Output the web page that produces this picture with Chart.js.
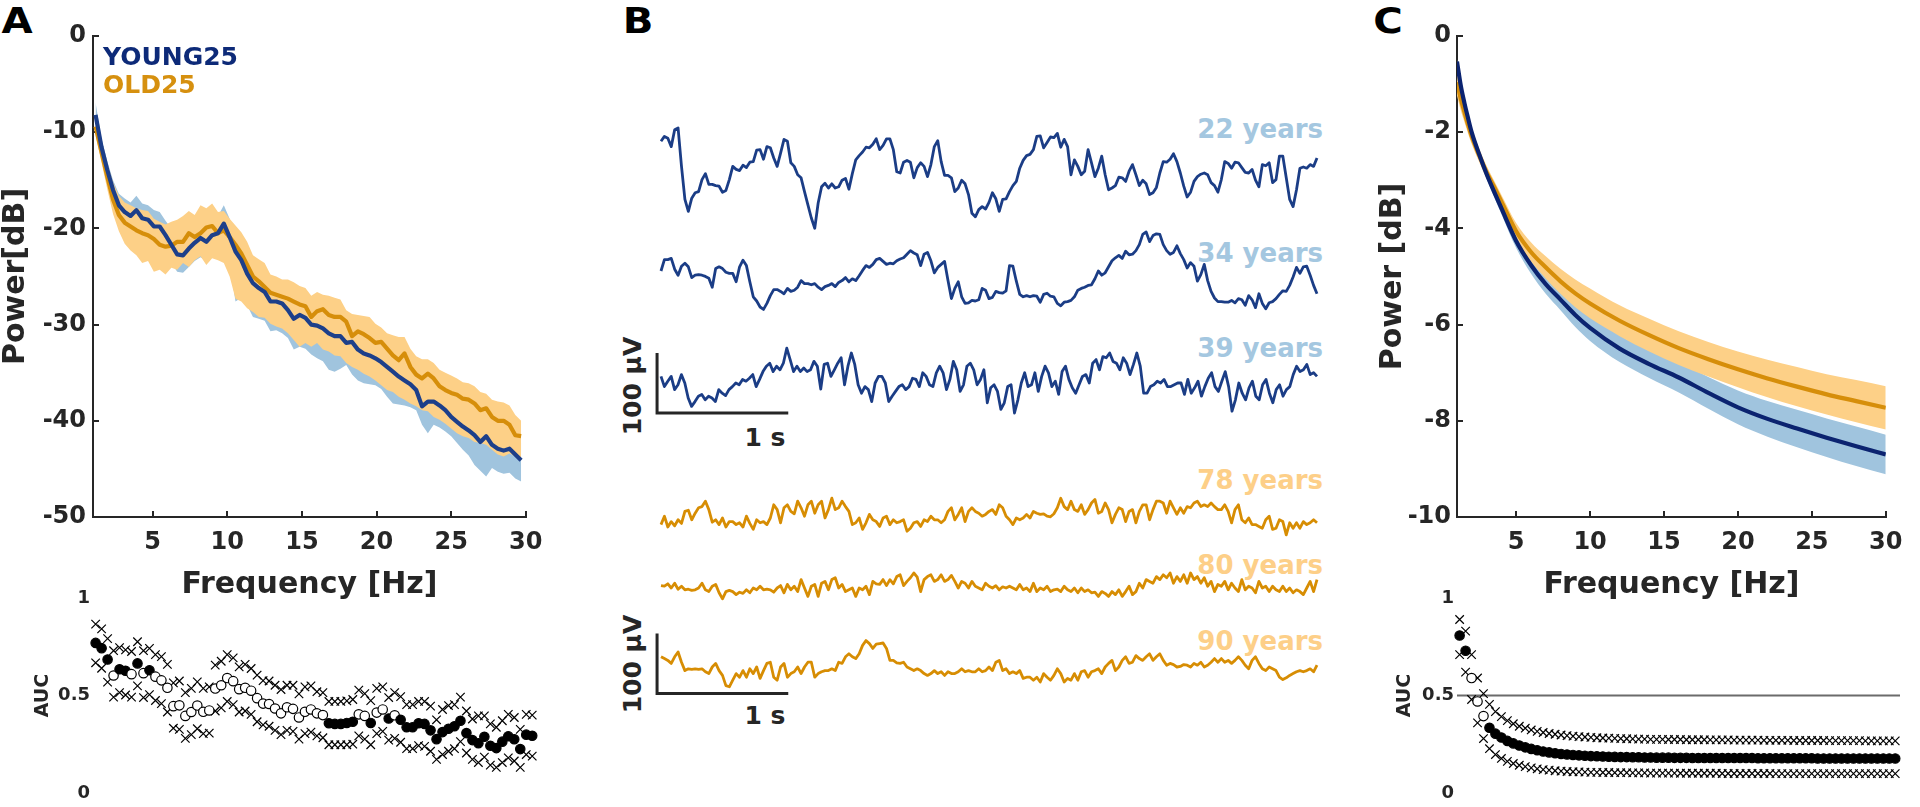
<!DOCTYPE html>
<html>
<head>
<meta charset="utf-8">
<title>Young vs old EEG spectra</title>
<script src="https://cdn.jsdelivr.net/npm/chart.js@4.4.1/dist/chart.umd.min.js"></script>
<style>
  body { margin: 0; width: 1920px; height: 807px; overflow: hidden; position: relative; background: #fff;
         font-family: 'DejaVu Sans', Verdana, sans-serif; font-weight: bold; color: #262626; }
  canvas { position: absolute; z-index: 1; }
  .t { position: absolute; white-space: nowrap; line-height: 1; z-index: 0; }
  .c { transform: translate(-50%, -50%); }
  .l { transform: translate(0, -50%); }
  .r { transform: translate(-100%, -50%); }
  .v { transform: translate(-50%, -50%) rotate(-90deg); }
  .young { color: #a4c7e0; font-size: 26px; }
  .old { color: #fdcf88; font-size: 26px; }
</style>
</head>
<body>

<div class="t c" style="left:17px;top:21px;font-size:35px;color:#000;transform:translate(-50%,-50%) scaleX(1.15)">A</div>
<div class="t c" style="left:638px;top:21px;font-size:35px;color:#000;transform:translate(-50%,-50%) scaleX(1.15)">B</div>
<div class="t c" style="left:1388px;top:21px;font-size:35px;color:#000;transform:translate(-50%,-50%) scaleX(1.15)">C</div>

<div class="t l" style="left:103px;top:56px;font-size:25px;color:#0d2a78;z-index:2">YOUNG25</div>
<div class="t l" style="left:103px;top:84px;font-size:25px;color:#d6900f;z-index:2">OLD25</div>

<div class="t r young" style="left:1323px;top:129px">22 years</div>
<div class="t r young" style="left:1323px;top:253px">34 years</div>
<div class="t r young" style="left:1323px;top:348px">39 years</div>
<div class="t r old" style="left:1323px;top:480px">78 years</div>
<div class="t r old" style="left:1323px;top:565px">80 years</div>
<div class="t r old" style="left:1323px;top:641px">90 years</div>

<div class="t c" style="left:765px;top:437px;font-size:25px">1 s</div>
<div class="t c" style="left:765px;top:715px;font-size:25px">1 s</div>
<div class="t v" style="left:632px;top:386px;font-size:25px">100 µV</div>
<div class="t v" style="left:632px;top:664px;font-size:25px">100 µV</div>

<canvas id="psd" width="560" height="610" style="left:0;top:0"></canvas>
<canvas id="aucA" width="560" height="247" style="left:0;top:560px"></canvas>
<canvas id="eeg" width="740" height="640" style="left:600px;top:90px"></canvas>
<canvas id="fit" width="560" height="610" style="left:1360px;top:0"></canvas>
<canvas id="aucC" width="560" height="247" style="left:1360px;top:560px"></canvas>

<script>
// spectral bins: k * 0.390625 Hz, first bin k = 3
const FREQ_BIN = 0.390625;
const FIRST_BIN = 3;
const FREQ_TICKS = [5, 10, 15, 20, 25, 30];
const PSD_TICKS = [0, -10, -20, -30, -40, -50];
const FIT_TICKS = [0, -2, -4, -6, -8, -10];
const AUC_TICKS = [0, 0.5, 1];
const CHANCE = 0.5;

// A: power spectra (dB), mean and band per group
const YOUNG_MEAN = [-8.2,-11.5,-13.9,-16.0,-17.6,-18.3,-18.7,-18.1,-18.95,-19.1,
  -19.8,-19.8,-20.7,-21.7,-22.7,-22.8,-22.1,-21.5,-21.0,-21.4,
  -20.7,-20.5,-19.5,-20.9,-22.4,-23.3,-24.7,-25.7,-26.2,-26.6,
  -27.6,-27.6,-27.8,-28.5,-29.4,-29.0,-29.3,-30.0,-30.1,-30.4,
  -30.9,-31.2,-31.2,-31.9,-31.8,-32.6,-33.0,-33.2,-33.5,-33.9,
  -34.4,-34.9,-35.4,-35.8,-36.2,-36.8,-38.5,-38.0,-38.0,-38.4,
  -38.9,-39.6,-40.1,-40.6,-41.0,-41.5,-42.2,-41.6,-42.5,-42.9,
  -43.1,-42.9,-43.5,-44.1];
const YOUNG_UPPER = [-6.9,-10.6,-13.0,-15.0,-16.4,-16.9,-17.3,-16.6,-17.4,-17.6,
  -18.1,-18.3,-19.2,-20.0,-20.9,-21.0,-20.3,-19.8,-19.3,-19.6,
  -18.9,-18.7,-17.6,-19.0,-20.6,-21.5,-22.9,-23.9,-24.4,-24.8,
  -25.8,-25.8,-26.0,-26.7,-27.6,-27.2,-27.5,-28.2,-28.3,-28.6,
  -29.1,-29.4,-29.4,-30.1,-30.0,-30.8,-31.2,-31.4,-31.7,-32.1,
  -32.6,-33.1,-33.6,-34.0,-34.4,-35.0,-36.7,-36.2,-36.2,-36.6,
  -37.1,-37.8,-38.3,-38.8,-39.2,-39.7,-40.4,-39.8,-40.7,-41.1,
  -41.3,-41.1,-41.7,-42.3];
const YOUNG_LOWER = [-9.3,-12.6,-15.2,-17.5,-19.3,-20.0,-20.4,-19.9,-20.7,-20.9,
  -21.6,-21.7,-22.6,-23.6,-24.5,-24.6,-24.0,-23.4,-23.0,-23.4,
  -22.7,-22.5,-21.6,-23.6,-27.6,-27.2,-28.0,-29.2,-29.4,-29.6,
  -30.7,-30.6,-30.9,-31.4,-32.6,-32.3,-32.5,-33.1,-33.5,-33.8,
  -34.7,-34.9,-34.6,-34.2,-35.2,-35.8,-36.1,-36.2,-36.3,-36.7,
  -37.5,-38.2,-38.3,-38.4,-38.6,-38.9,-40.4,-41.3,-40.4,-40.7,
  -41.1,-41.6,-42.3,-43.0,-43.6,-44.6,-45.2,-45.8,-44.9,-45.3,
  -45.5,-45.4,-46.0,-46.3];
const OLD_MEAN = [-9.4,-12.0,-14.6,-17.0,-18.6,-19.4,-19.8,-20.2,-20.5,-20.7,
  -21.1,-21.7,-21.9,-21.8,-21.4,-21.4,-20.5,-20.9,-20.5,-19.9,
  -19.75,-20.5,-20.2,-20.9,-21.7,-22.6,-23.8,-25.0,-25.5,-26.1,
  -26.7,-26.9,-27.1,-27.3,-27.6,-27.9,-28.1,-29.2,-28.6,-28.4,
  -29.0,-29.2,-29.2,-29.7,-31.2,-30.7,-31.0,-31.4,-31.9,-31.8,
  -32.5,-33.2,-33.7,-33.0,-34.4,-35.2,-35.6,-35.1,-35.6,-36.4,
  -36.8,-37.1,-37.3,-37.7,-37.8,-38.2,-38.9,-38.7,-39.6,-40.0,
  -40.0,-40.4,-41.5,-41.6];
const OLD_UPPER = [-8.4,-10.8,-13.2,-15.2,-16.6,-17.3,-17.6,-17.9,-18.1,-18.2,
  -19.0,-19.3,-19.6,-19.3,-19.1,-18.7,-18.2,-18.6,-17.6,-17.9,
  -17.4,-18.3,-18.2,-19.0,-19.7,-20.4,-21.4,-22.8,-23.2,-23.6,
  -24.8,-25.0,-25.3,-25.3,-25.6,-26.0,-26.2,-27.0,-26.6,-26.9,
  -27.0,-27.2,-27.4,-28.5,-28.9,-29.0,-29.1,-29.2,-29.9,-30.3,
  -30.9,-31.1,-31.3,-31.3,-32.5,-33.3,-33.6,-33.6,-34.0,-34.7,
  -35.0,-35.3,-35.6,-36.0,-36.1,-36.4,-37.0,-37.2,-37.8,-38.0,
  -38.1,-38.4,-39.4,-40.0];
const OLD_LOWER = [-10.4,-13.1,-15.9,-18.5,-20.3,-21.6,-22.3,-22.8,-23.6,-23.4,
  -24.5,-24.3,-24.8,-24.1,-24.3,-23.6,-24.0,-23.3,-22.9,-23.8,
  -23.1,-23.3,-23.6,-25.0,-27.3,-27.6,-28.3,-28.7,-29.2,-29.3,
  -29.9,-30.2,-30.4,-30.9,-31.6,-32.3,-31.9,-32.3,-31.9,-32.6,
  -32.8,-33.2,-33.3,-34.0,-34.4,-34.7,-35.1,-35.4,-35.8,-36.3,
  -36.8,-37.0,-37.5,-37.8,-38.2,-38.5,-38.9,-39.0,-39.6,-39.9,
  -40.3,-40.8,-41.3,-41.6,-41.8,-42.2,-42.3,-42.5,-43.0,-43.5,
  -43.7,-43.4,-43.7,-44.1];

// A: AUC per bin (mean, upper and lower bound)
const AUC_A_MEAN = [0.77,0.743,0.685,0.603,0.635,0.627,0.61,0.665,0.615,0.63,
  0.597,0.578,0.54,0.446,0.45,0.396,0.416,0.449,0.417,0.424,
  0.536,0.553,0.59,0.574,0.533,0.54,0.525,0.487,0.459,0.457,
  0.434,0.409,0.44,0.432,0.388,0.417,0.429,0.409,0.4,0.358,
  0.355,0.355,0.36,0.366,0.404,0.396,0.36,0.413,0.429,0.383,
  0.399,0.376,0.338,0.338,0.358,0.355,0.322,0.277,0.313,0.33,
  0.343,0.371,0.308,0.272,0.256,0.289,0.243,0.231,0.264,0.292,
  0.276,0.226,0.3,0.294];
const AUC_A_UPPER = [0.866,0.842,0.792,0.73,0.746,0.734,0.726,0.776,0.73,0.742,
  0.71,0.70,0.66,0.565,0.575,0.515,0.537,0.57,0.537,0.545,
  0.656,0.676,0.71,0.693,0.647,0.66,0.639,0.605,0.577,0.575,
  0.553,0.531,0.553,0.553,0.509,0.545,0.55,0.52,0.515,0.47,
  0.47,0.47,0.473,0.48,0.528,0.51,0.474,0.537,0.545,0.49,
  0.515,0.495,0.454,0.454,0.47,0.47,0.446,0.376,0.429,0.449,
  0.454,0.492,0.421,0.38,0.396,0.396,0.355,0.338,0.371,0.404,
  0.388,0.327,0.404,0.4];
const AUC_A_LOWER = [0.668,0.64,0.569,0.492,0.515,0.503,0.492,0.55,0.49,0.505,
  0.475,0.459,0.416,0.333,0.327,0.281,0.3,0.33,0.305,0.308,
  0.421,0.437,0.47,0.454,0.416,0.421,0.404,0.366,0.35,0.343,
  0.322,0.3,0.322,0.317,0.277,0.305,0.313,0.294,0.284,0.248,
  0.248,0.248,0.248,0.251,0.294,0.277,0.248,0.305,0.317,0.272,
  0.281,0.261,0.228,0.228,0.244,0.24,0.215,0.173,0.198,0.215,
  0.228,0.264,0.206,0.173,0.157,0.185,0.144,0.132,0.157,0.181,
  0.165,0.132,0.198,0.19];

// B: example EEG epochs, 5 s each, µV
const TRACE_SECONDS = 5;
const TRACE_22 = [53,61,58,44,72,75,11,-44,-64,-42,-33,-31,-11,-1,-19,-19,-21,-22,-32,-29,
  -11,11,6,4,13,9,18,19,38,39,23,44,42,25,11,33,56,53,17,11,
  -3,-8,-31,-53,-75,-92,-50,-23,-17,-25,-18,-25,-23,-12,-9,-27,-1,22,29,35,
  43,42,48,57,39,46,57,57,39,2,0,18,21,18,-8,9,17,11,-6,14,
  44,54,19,-4,-4,-8,-31,-25,-12,-18,-36,-67,-73,-61,-56,-60,-49,-33,-43,-64,
  -44,-43,-31,-21,-14,8,21,29,31,39,61,62,42,51,60,59,66,43,56,44,
  -3,22,11,-3,3,39,17,-6,8,28,-3,-28,-25,-21,-7,-8,-14,3,14,-3,
  -21,-12,-18,-36,-33,-24,0,19,18,23,32,19,0,-22,-40,-32,-14,-6,-2,0,
  -3,-16,-21,-32,-11,19,16,8,18,17,9,1,0,6,-12,-23,14,12,17,-16,
  -11,28,28,-8,-44,-56,-28,8,10,8,14,11,25];
const TRACE_34 = [10,29,29,31,13,3,18,23,17,-1,3,4,3,1,-2,-17,14,17,14,8,
  6,6,-8,17,28,19,-8,-33,-40,-50,-54,-44,-31,-21,-21,-24,-28,-19,-24,-22,
  -17,-6,-11,-11,-13,-11,-17,-21,-16,-14,-11,-16,-9,-6,-1,-8,-3,-6,2,11,
  19,16,21,29,31,26,21,23,22,27,30,32,38,44,40,37,19,38,41,27,
  7,16,21,26,-6,-36,-19,-8,-33,-44,-43,-39,-40,-38,-19,-22,-36,-34,-24,-26,
  -27,-23,19,18,-7,-29,-33,-31,-33,-31,-32,-42,-29,-27,-32,-33,-44,-48,-42,-41,
  -39,-33,-22,-19,-17,-14,-13,-3,10,3,7,17,27,32,36,31,43,37,38,44,
  54,71,75,59,69,72,71,54,44,38,41,52,39,29,15,24,18,-7,4,21,
  -6,-24,-35,-41,-41,-42,-42,-39,-43,-36,-38,-47,-31,-38,-51,-28,-44,-53,-43,-41,
  -36,-29,-23,-24,-14,0,16,6,17,18,3,-14,-28];
const TRACE_39 = [11,-6,3,11,-11,-3,14,0,-25,-39,-31,-22,-19,-28,-22,-25,-31,-11,-17,-21,
  -11,-6,0,-3,6,3,8,14,-6,6,19,28,33,19,28,22,33,58,39,19,
  28,19,25,19,22,36,28,-10,31,33,11,22,33,42,-3,28,50,31,-3,-17,
  -6,-11,-31,0,11,11,0,-31,-22,-14,-6,-3,-11,-6,8,6,-6,17,11,-3,
  -6,17,28,17,-11,6,36,22,-14,-3,28,33,22,-3,6,22,-33,-8,-3,-14,
  -44,-33,-6,-3,-50,-28,0,17,-6,-3,17,-14,11,28,17,-6,3,-19,19,28,
  6,-8,-17,-3,11,14,0,33,39,22,44,42,50,36,33,22,42,33,14,31,
  50,28,-17,-17,-6,-3,3,0,6,-6,-6,-3,0,0,-19,6,-17,-8,3,-22,
  -6,8,17,-6,-14,3,19,-6,-47,-28,0,-17,-28,-8,3,-22,-28,-3,6,-17,
  -33,-11,-3,-22,-11,-6,14,28,19,22,31,14,17,11];
const TRACE_78 = [-11,3,-15,-6,-13,-3,-9,11,13,-3,8,17,19,28,14,-7,-3,-11,0,-15,
  -6,-6,-11,-8,-15,3,-9,-19,-3,-8,-6,-11,0,22,14,-8,17,22,11,7,
  28,17,3,22,28,8,22,28,0,14,33,14,17,28,19,11,-11,-8,0,-19,
  -8,6,-3,-6,-14,0,3,-11,-3,-8,-6,-3,-22,-17,-8,-6,-14,-3,-6,3,
  -3,-3,-8,-3,11,17,-3,6,17,-6,11,17,11,8,3,6,11,14,6,22,
  17,3,-3,-11,0,-3,0,6,0,11,8,6,7,3,2,7,17,33,19,14,
  28,14,11,22,6,14,25,31,8,11,25,14,-8,6,17,14,-6,11,14,-8,
  11,22,22,-3,14,28,28,25,8,28,17,6,17,8,19,17,25,28,19,22,
  19,25,19,14,14,22,11,-8,14,22,-3,-8,0,-11,-11,-14,-17,-3,3,-19,
  -17,-3,-6,-28,-8,-17,-8,-17,-6,-11,-8,-3,-8];
const TRACE_80 = [4,3,7,0,8,-2,3,-3,-2,-4,-3,0,8,-3,-6,3,6,-8,-18,-6,
  -4,-6,-11,-7,-9,-3,-8,0,-3,3,-3,-2,-3,-7,0,4,-8,6,-3,3,
  -6,14,0,-14,3,6,-14,8,11,-3,14,17,0,6,-6,-3,0,-14,0,-3,
  3,-11,11,7,6,14,4,14,7,19,22,4,11,17,25,18,-6,14,19,22,
  11,14,22,11,14,21,11,0,11,8,0,11,3,0,-3,8,3,0,4,-3,
  2,0,3,0,-3,6,-3,0,-6,8,-6,0,-3,3,-6,-3,-2,-6,3,-3,
  -6,0,-8,0,-6,-3,-8,-7,-14,-6,-9,-14,-6,-11,-3,-14,-6,3,-11,-6,
  8,0,14,11,8,19,14,22,17,25,8,19,11,22,8,25,14,19,8,17,
  3,11,-6,6,3,11,-3,8,0,-6,14,-3,3,0,-8,11,0,3,-6,3,
  -3,-6,3,-6,0,-8,-3,-6,-11,0,11,-6,14];
const TRACE_90 = [17,14,11,6,17,25,8,-6,-3,-4,-3,-4,-3,-8,-11,0,6,-6,-14,-31,
  -33,-22,-11,-17,-6,-17,-3,-11,0,-19,-6,6,8,-17,-22,0,6,-17,-11,-8,
  0,-11,0,8,8,-17,-11,-8,-6,-6,-3,-6,8,6,17,22,17,14,22,36,
  44,39,31,38,39,40,31,11,11,7,6,8,0,-3,-6,-3,-6,-11,-14,-11,
  -6,-11,-8,-14,-8,-11,-11,-8,-3,-8,-6,-8,-8,-3,-8,-6,0,-6,8,11,
  -6,-3,-11,-8,-11,-6,-19,-17,-17,-22,-17,-25,-11,-17,-22,-14,-3,-11,-25,-19,
  -22,-11,-22,-8,-6,-17,-8,-6,-3,-11,0,6,11,-6,0,11,17,6,8,19,
  14,11,17,22,11,17,22,11,3,6,4,0,1,4,3,0,6,3,8,0,
  3,8,14,8,14,8,11,6,11,17,11,3,-3,11,17,6,-3,-6,0,-3,
  -6,-17,-21,-18,-14,-11,-8,-6,-8,-6,-3,-8,3];
const SCALE_UV = 100;
const SCALE_S = 1;

// C: fitted aperiodic component (dB)
const FIT_FREQ = [1,1.25,1.5,1.75,2,2.5,3,3.5,4,5,6,7,8,9,10,12,14,16,18,20,22,24,26,28,30];
const FIT_YOUNG = [-0.53,-1.02,-1.39,-1.71,-2.01,-2.46,-2.87,-3.23,-3.58,-4.26,-4.76,-5.16,-5.48,-5.8,-6.07,-6.5,-6.82,-7.1,-7.42,-7.72,-7.96,-8.16,-8.35,-8.53,-8.7];
const FIT_YOUNG_UPPER = [-0.49,-0.97,-1.33,-1.64,-1.93,-2.37,-2.77,-3.12,-3.46,-4.11,-4.58,-4.96,-5.26,-5.55,-5.80,-6.22,-6.53,-6.79,-7.09,-7.37,-7.59,-7.77,-7.95,-8.12,-8.29];
const FIT_YOUNG_LOWER = [-0.57,-1.07,-1.45,-1.78,-2.09,-2.55,-2.97,-3.34,-3.70,-4.41,-4.94,-5.36,-5.70,-6.05,-6.34,-6.78,-7.11,-7.41,-7.75,-8.07,-8.33,-8.55,-8.75,-8.94,-9.11];
const FIT_OLD = [-0.96,-1.3,-1.58,-1.85,-2.09,-2.48,-2.83,-3.13,-3.44,-4.06,-4.49,-4.81,-5.1,-5.35,-5.56,-5.92,-6.22,-6.49,-6.72,-6.93,-7.12,-7.29,-7.45,-7.59,-7.73];
const FIT_OLD_UPPER = [-0.68,-1.06,-1.37,-1.67,-1.93,-2.34,-2.70,-3.00,-3.30,-3.89,-4.29,-4.58,-4.84,-5.06,-5.25,-5.60,-5.88,-6.14,-6.36,-6.56,-6.73,-6.88,-7.03,-7.15,-7.28];
const FIT_OLD_LOWER = [-1.24,-1.54,-1.79,-2.03,-2.25,-2.62,-2.96,-3.26,-3.58,-4.23,-4.69,-5.04,-5.36,-5.64,-5.87,-6.24,-6.56,-6.84,-7.08,-7.30,-7.51,-7.70,-7.87,-8.03,-8.18];

// C: AUC of the fitted component per bin
const AUC_C_MEAN = [0.808,0.73,0.59,0.47,0.395,0.335,0.305,0.285,0.268,0.255,
  0.244,0.235,0.227,0.22,0.214,0.209,0.205,0.201,0.198,0.196,
  0.194,0.192,0.19,0.189,0.188,0.187,0.186,0.185,0.185,0.184,
  0.184,0.183,0.183,0.182,0.182,0.182,0.181,0.181,0.181,0.18,
  0.18,0.18,0.18,0.18,0.18,0.18,0.18,0.18,0.18,0.18,
  0.179,0.179,0.179,0.179,0.179,0.179,0.179,0.179,0.179,0.179,
  0.178,0.178,0.178,0.178,0.178,0.178,0.178,0.178,0.178,0.178,
  0.178,0.178,0.178,0.178];
const AUC_C_UPPER = [0.89,0.83,0.71,0.59,0.51,0.455,0.418,0.392,0.372,0.356,
  0.343,0.333,0.324,0.317,0.311,0.306,0.302,0.298,0.295,0.292,
  0.29,0.288,0.286,0.284,0.283,0.282,0.281,0.28,0.279,0.278,
  0.277,0.277,0.276,0.276,0.276,0.275,0.275,0.275,0.274,0.274,
  0.274,0.274,0.273,0.273,0.273,0.273,0.272,0.272,0.272,0.272,
  0.272,0.271,0.271,0.271,0.271,0.271,0.27,0.27,0.27,0.27,
  0.27,0.27,0.269,0.269,0.269,0.269,0.269,0.269,0.268,0.268,
  0.268,0.268,0.268,0.268];
const AUC_C_LOWER = [0.71,0.62,0.48,0.36,0.28,0.228,0.198,0.178,0.163,0.152,
  0.143,0.136,0.13,0.125,0.121,0.118,0.115,0.113,0.111,0.11,
  0.109,0.108,0.107,0.107,0.106,0.106,0.105,0.105,0.105,0.104,
  0.104,0.104,0.103,0.103,0.103,0.103,0.103,0.102,0.102,0.102,
  0.102,0.102,0.102,0.102,0.101,0.101,0.101,0.101,0.101,0.101,
  0.101,0.101,0.101,0.1,0.1,0.1,0.1,0.1,0.1,0.1,
  0.1,0.1,0.1,0.1,0.1,0.1,0.1,0.1,0.1,0.1,
  0.1,0.1,0.1,0.1];

// ---- styling ----
const INK = '#262626';
const NAVY = '#1d3f8a', NAVY_DARK = '#0b2370', ORANGE = '#d68e0a';
const LIGHT_BLUE = '#a0c4de', LIGHT_ORANGE = '#fdd087';
const NAVY_TRACE = '#1b3d86', ORANGE_TRACE = '#d78d03';

Chart.defaults.font.family = "'DejaVu Sans', Verdana, sans-serif";
Chart.defaults.font.weight = 'bold';
Chart.defaults.color = INK;
Chart.defaults.animation = false;
Chart.defaults.events = [];
Chart.defaults.plugins.legend.display = false;
Chart.defaults.plugins.tooltip.enabled = false;

const binFreq = i => (FIRST_BIN + i) * FREQ_BIN;
const xy = (xs, ys) => ys.map((y, i) => ({ x: xs[i], y: y }));
const fixed = list => axis => { axis.ticks = list.map(v => ({ value: v })); };

function freqAxis(height) {
  return {
    type: 'linear', min: 1, max: 30,
    afterBuildTicks: fixed(FREQ_TICKS),
    afterFit: a => { a.height = height; },
    border: { display: true, color: INK, width: 2 },
    grid: { display: true, drawOnChartArea: false, drawTicks: true, tickLength: -6,
            color: INK, tickColor: INK, lineWidth: 2, tickWidth: 2 },
    ticks: { color: INK, font: { size: 24, weight: 'bold' }, padding: 17.5,
             maxRotation: 0, minRotation: 0, autoSkip: false },
    title: { display: true, text: 'Frequency [Hz]', color: INK,
             font: { size: 30, weight: 'bold', lineHeight: 1 }, padding: { top: 0, bottom: 10 } }
  };
}

function powerAxis(width, min, ticks, label, titlePad, labelPad) {
  return {
    type: 'linear', min: min, max: 0,
    afterBuildTicks: fixed(ticks),
    afterFit: a => { a.width = width; },
    border: { display: true, color: INK, width: 2 },
    grid: { display: true, drawOnChartArea: false, drawTicks: true, tickLength: -6,
            color: INK, tickColor: INK, lineWidth: 2, tickWidth: 2 },
    ticks: { color: INK, font: { size: 24, weight: 'bold' }, padding: labelPad, callback: v => String(v) },
    title: { display: true, text: label, color: INK,
             font: { size: 30, weight: 'bold', lineHeight: 1 }, padding: { top: titlePad, bottom: 0 } }
  };
}

function aucAxis(width, labelPad, titlePad) {
  return {
    type: 'linear', min: 0, max: 1,
    afterBuildTicks: fixed(AUC_TICKS),
    afterFit: a => { a.width = width; },
    border: { display: false },
    grid: { display: false, drawTicks: false },
    ticks: { color: INK, font: { size: 18, weight: 'bold' }, padding: labelPad, callback: v => String(v) },
    title: { display: true, text: 'AUC', color: INK,
             font: { size: 19, weight: 'bold', lineHeight: 1 }, padding: { top: titlePad, bottom: 0 } }
  };
}

function band(xs, upper, lower, colour, order) {
  return [
    { data: xy(xs, upper), fill: '+1', backgroundColor: colour, borderColor: 'transparent',
      borderWidth: 0, pointRadius: 0, order: order },
    { data: xy(xs, lower), fill: false, borderColor: 'transparent', borderWidth: 0,
      pointRadius: 0, order: order }
  ];
}

function meanLine(xs, ys, colour, order) {
  return { data: xy(xs, ys), borderColor: colour, borderWidth: 4.2, pointRadius: 0, fill: false,
           order: order, borderJoinStyle: 'round' };
}

function aucSets(xs, mean, upper, lower) {
  const sig = lower.map((lo, i) => lo > CHANCE || upper[i] < CHANCE);
  const cross = ys => ({ data: xy(xs, ys), showLine: false, pointStyle: 'crossRot', pointRadius: 6,
                         pointBorderColor: '#000', pointBorderWidth: 1.2, clip: false, order: 2 });
  return [
    cross(upper), cross(lower),
    { data: xy(xs, mean), showLine: false, pointStyle: 'circle', pointRadius: 4.7,
      pointBorderColor: '#000', pointBorderWidth: 1.2,
      pointBackgroundColor: sig.map(s => s ? '#000' : '#fff'), clip: false, order: 1 }
  ];
}

// ---- A: spectra ----
const psdFreqs = YOUNG_MEAN.map((_, i) => binFreq(i));
new Chart(document.getElementById('psd'), {
  type: 'line',
  data: { datasets: [
    meanLine(psdFreqs, YOUNG_MEAN, NAVY, 0),
    meanLine(psdFreqs, OLD_MEAN, ORANGE, 1),
    ...band(psdFreqs, OLD_UPPER, OLD_LOWER, LIGHT_ORANGE, 2),
    ...band(psdFreqs, YOUNG_UPPER, YOUNG_LOWER, LIGHT_BLUE, 3)
  ] },
  options: {
    responsive: false,
    layout: { padding: { top: 36, right: 23, left: 0, bottom: 0 } },
    plugins: { filler: { propagate: false } },
    scales: { x: freqAxis(93), y: powerAxis(93, -50, PSD_TICKS, 'Power[dB]', 1, 13) }
  }
});

const aucFreqsA = AUC_A_MEAN.map((_, i) => binFreq(i));
new Chart(document.getElementById('aucA'), {
  type: 'scatter',
  data: { datasets: aucSets(aucFreqsA, AUC_A_MEAN, AUC_A_UPPER, AUC_A_LOWER) },
  options: {
    responsive: false,
    layout: { padding: { top: 38, right: 23, left: 0, bottom: 7 } },
    scales: { x: { type: 'linear', min: 1, max: 30, display: false }, y: aucAxis(93, 3, 33.5) }
  }
});

// ---- B: EEG epochs ----
const B_W = 740, B_H = 640, B_TOP = 90;
const UV_PX = 0.6;        // 100 µV = 60 px
const PX_PER_S = 131.2;   // 1 s = 131 px
const T0_X = 61;          // onset of the epochs inside the canvas
const BAR_T = -0.03;
const EEG_ROWS = [
  { axis: 'y22', values: TRACE_22, colour: NAVY_TRACE, centre: 173 },
  { axis: 'y34', values: TRACE_34, colour: NAVY_TRACE, centre: 277 },
  { axis: 'y39', values: TRACE_39, colour: NAVY_TRACE, centre: 383 },
  { axis: 'y78', values: TRACE_78, colour: ORANGE_TRACE, centre: 518 },
  { axis: 'y80', values: TRACE_80, colour: ORANGE_TRACE, centre: 588 },
  { axis: 'y90', values: TRACE_90, colour: ORANGE_TRACE, centre: 667 }
];
const SCALE_BARS = [ { axis: 'y39', base: -50 }, { axis: 'y90', base: -44 } ];

const eegScales = { x: { type: 'linear', display: false, min: -T0_X / PX_PER_S, max: (B_W - T0_X) / PX_PER_S } };
EEG_ROWS.forEach(r => {
  const max = (r.centre - B_TOP) / UV_PX;
  eegScales[r.axis] = { type: 'linear', axis: 'y', display: false, max: max, min: max - B_H / UV_PX };
});
const eegSets = EEG_ROWS.map(r => ({
  yAxisID: r.axis,
  data: r.values.map((v, k) => ({ x: k * TRACE_SECONDS / (r.values.length - 1), y: v })),
  borderColor: r.colour, borderWidth: 2.8, pointRadius: 0, fill: false,
  borderJoinStyle: 'round', clip: false
}));
SCALE_BARS.forEach(b => eegSets.push({
  yAxisID: b.axis,
  data: [ { x: BAR_T, y: b.base + SCALE_UV }, { x: BAR_T, y: b.base }, { x: BAR_T + SCALE_S, y: b.base } ],
  borderColor: INK, borderWidth: 3, pointRadius: 0, fill: false,
  borderJoinStyle: 'miter', borderCapStyle: 'butt', clip: false
}));
new Chart(document.getElementById('eeg'), {
  type: 'line',
  data: { datasets: eegSets },
  options: { responsive: false, layout: { padding: 0 }, scales: eegScales }
});

// ---- C: fitted component ----
new Chart(document.getElementById('fit'), {
  type: 'line',
  data: { datasets: [
    meanLine(FIT_FREQ, FIT_YOUNG, NAVY_DARK, 0),
    meanLine(FIT_FREQ, FIT_OLD, ORANGE, 1),
    ...band(FIT_FREQ, FIT_OLD_UPPER, FIT_OLD_LOWER, LIGHT_ORANGE, 2),
    ...band(FIT_FREQ, FIT_YOUNG_UPPER, FIT_YOUNG_LOWER, LIGHT_BLUE, 3)
  ].map(d => Object.assign(d, { cubicInterpolationMode: 'monotone' })) },
  options: {
    responsive: false,
    layout: { padding: { top: 36, right: 20, left: 0, bottom: 0 } },
    plugins: { filler: { propagate: false } },
    scales: { x: freqAxis(93), y: powerAxis(97, -10, FIT_TICKS, 'Power [dB]', 18, 12) }
  }
});

const aucFreqsC = AUC_C_MEAN.map((_, i) => binFreq(i));
const aucCSets = aucSets(aucFreqsC, AUC_C_MEAN, AUC_C_UPPER, AUC_C_LOWER);
aucCSets.push({ type: 'line', data: [ { x: 1, y: CHANCE }, { x: 30, y: CHANCE } ],
                borderColor: '#6b6b6b', borderWidth: 2, pointRadius: 0, order: 5 });
new Chart(document.getElementById('aucC'), {
  type: 'scatter',
  data: { datasets: aucCSets },
  options: {
    responsive: false,
    layout: { padding: { top: 38, right: 20, left: 0, bottom: 7 } },
    scales: { x: { type: 'linear', min: 1, max: 30, display: false }, y: aucAxis(97, 3, 35.5) }
  }
});
</script>
</body>
</html>
